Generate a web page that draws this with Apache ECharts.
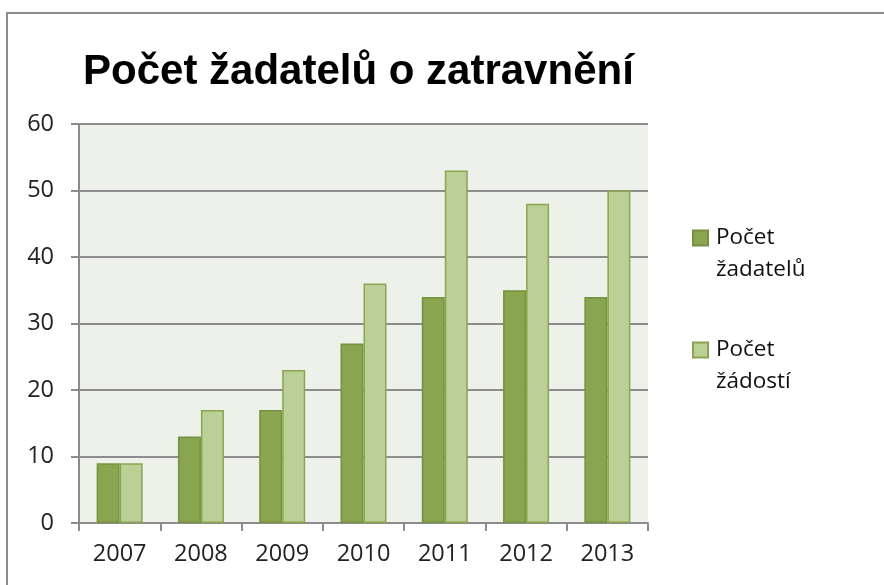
<!DOCTYPE html>
<html lang="cs">
<head>
<meta charset="UTF-8">
<title>Počet žadatelů o zatravnění</title>
<script src="https://cdn.jsdelivr.net/npm/echarts@6/dist/echarts.min.js"></script>
<style>
    html, body { margin: 0; padding: 0; background: #fff; overflow: hidden; }
    #frame {
        position: absolute;
        left: 6px; top: 12px;
        width: 900px; height: 600px;
        border: 2px solid #8c8c8c;
        box-sizing: border-box;
    }
    #chart {
        position: absolute;
        left: 0; top: 0;
        width: 884px; height: 585px;
    }
</style>
</head>
<body>
<div id="frame"></div>
<div id="chart"></div>
<script>
    var roky = ['2007', '2008', '2009', '2010', '2011', '2012', '2013'];
    var zadatele = [9, 13, 17, 27, 34, 35, 34];
    var zadosti = [9, 17, 23, 36, 53, 48, 50];
    var yTicks = [0, 10, 20, 30, 40, 50, 60];
    var legendTexty = {
        'Počet žadatelů': '\nPočet\nžadatelů',
        'Počet žádostí': '\nPočet\nžádostí'
    };

    var chart = echarts.init(document.getElementById('chart'));
    var labelFont = '"Open Sans", "Noto Sans", sans-serif';

    chart.setOption({
        animation: false,
        title: {
            text: 'Počet žadatelů o zatravnění',
            left: 78,
            top: 46,
            textStyle: {
                fontFamily: '"Liberation Sans", Arial, sans-serif',
                fontWeight: 'bold',
                fontSize: 42,
                color: '#000'
            }
        },
        grid: {
            left: 79, right: 236, top: 124, bottom: 62
        },
        legend: {
            orient: 'vertical',
            left: 687,
            top: 185,
            itemGap: 16,
            itemWidth: 15,
            itemHeight: 15,
            icon: 'rect',
            formatter: function (name) { return legendTexty[name]; },
            textStyle: {
                fontFamily: labelFont,
                fontSize: 22.5,
                lineHeight: 32,
                color: '#111',
                padding: [0, 0, 0, 3]
            }
        },
        xAxis: {
            type: 'category',
            data: roky,
            axisLine: { lineStyle: { color: '#8c8c8c', width: 2 } },
            axisTick: { show: true, length: 8, lineStyle: { color: '#8c8c8c', width: 2 } },
            axisLabel: { margin: 19, fontFamily: labelFont, fontSize: 23.5, color: '#222' }
        },
        yAxis: {
            type: 'value',
            min: yTicks[0],
            max: yTicks[yTicks.length - 1],
            interval: 10,
            axisLine: { show: true, lineStyle: { color: '#8c8c8c', width: 2 } },
            axisTick: { show: true, length: 8, lineStyle: { color: '#8c8c8c', width: 2 } },
            axisLabel: { margin: 25, fontFamily: labelFont, fontSize: 23.5, color: '#222' },
            splitLine: { lineStyle: { color: '#8c8c8c', width: 2 } },
            splitArea: { show: true, areaStyle: { color: ['#eef1e9', '#eef1e9'] } }
        },
        series: [
            {
                name: 'Počet žadatelů',
                type: 'bar',
                data: zadatele,
                barWidth: 23,
                barGap: '0%',
                itemStyle: { color: '#8aa54f', borderColor: '#77923e', borderWidth: 1.5 }
            },
            {
                name: 'Počet žádostí',
                type: 'bar',
                data: zadosti,
                barWidth: 23,
                barGap: '0%',
                itemStyle: { color: '#bbd096', borderColor: '#8aa54f', borderWidth: 1.5 }
            }
        ]
    });
</script>
</body>
</html>
